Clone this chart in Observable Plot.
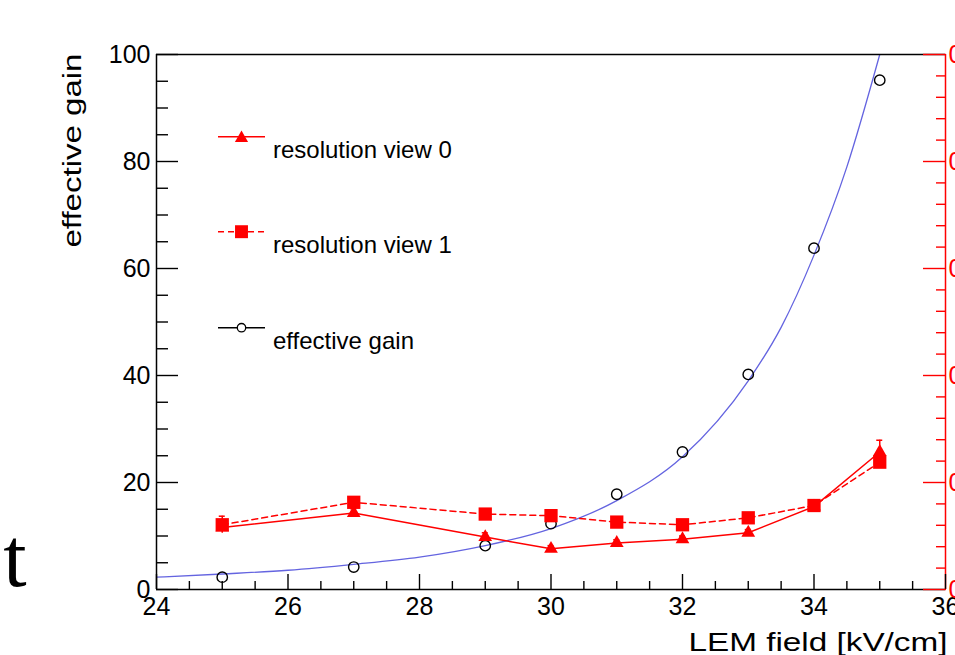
<!DOCTYPE html>
<html><head><meta charset="utf-8">
<script src="https://cdn.jsdelivr.net/npm/d3@7"></script>
<script src="https://cdn.jsdelivr.net/npm/@observablehq/plot@0.6"></script>
<style>
body{margin:0;background:#fff;}
#wrap{position:relative;width:955px;height:655px;overflow:hidden;background:#fff;}
#wrap svg.legend{position:absolute;left:0;top:0;pointer-events:none;}
</style></head><body><div id="wrap"></div>
<script>
// ---- data ----
const fields = [25, 27, 29, 30, 31, 32, 33, 34, 35];            // LEM field [kV/cm]
const gain   = [2.3, 4.2, 8.2, 12.3, 17.8, 25.7, 40.2, 63.8, 95.2]; // effective gain (left axis)
const res0   = [0.058, 0.0715, 0.049, 0.038, 0.0435, 0.047, 0.053, 0.0775, 0.1285]; // resolution view 0 (right axis)
const res1   = [0.0605, 0.0815, 0.0705, 0.069, 0.063, 0.0605, 0.067, 0.0785, 0.119]; // resolution view 1 (right axis)
const err0   = [0.004, 0.004, 0.004, 0.003, 0.003, 0.003, 0.003, 0.004, 0.011];
const err1   = [0.008, 0.004, 0.004, 0.004, 0.003, 0.003, 0.004, 0.004, 0.006];
const fitField = [24, 25, 26, 27, 28, 29, 30, 31, 32, 33, 33.5, 34, 34.5, 35];
const fitGain  = [2.3, 2.9, 3.6, 4.7, 6.05, 8.2, 11.4, 16.6, 24.8, 39, 49, 62.5, 79, 100];

const xDomain = [24, 36];
const yDomain = [0, 100];
const resMax = 0.5;
const xMajor = [24, 26, 28, 30, 32, 34, 36];
const xMinor = [24.5, 25, 25.5, 26.5, 27, 27.5, 28.5, 29, 29.5, 30.5, 31, 31.5, 32.5, 33, 33.5, 34.5, 35, 35.5];
const yMajor = [0, 20, 40, 60, 80, 100];
const yMinor = [5, 10, 15, 25, 30, 35, 45, 50, 55, 65, 70, 75, 85, 90, 95];
const rMajor = [0, 0.1, 0.2, 0.3, 0.4, 0.5];
const rMinor = [0.02, 0.04, 0.06, 0.08, 0.12, 0.14, 0.16, 0.18, 0.22, 0.24, 0.26, 0.28, 0.32, 0.34, 0.36, 0.38, 0.42, 0.44, 0.46, 0.48];
const legendNames = ["resolution view 0", "resolution view 1", "effective gain"];
const xTitle = "LEM field [kV/cm]";
const yTitle = "effective gain";

const red = "#ff0000";
const blue = "#6464e0";
const k = 100 / resMax;
const rows = fields.map((f, i) => ({f, gain: gain[i], r0: res0[i], r1: res1[i], e0: err0[i], e1: err1[i]}));
const fit = fitField.map((f, i) => ({f, g: fitGain[i]}));
const font = "'Liberation Sans', Arial, Helvetica, sans-serif";

const chart = Plot.plot({
  width: 955, height: 655,
  marginLeft: 156, marginRight: 10, marginTop: 54, marginBottom: 66,
  style: {fontFamily: font, fontSize: "25px", background: "white", overflow: "visible"},
  x: {domain: xDomain},
  y: {domain: yDomain},
  marks: [
    Plot.line(fit, {x: "f", y: "g", curve: "monotone-x", stroke: blue, strokeWidth: 1.3, clip: true}),
    Plot.dot(rows, {x: "f", y: "gain", r: 5.2, stroke: "black", strokeWidth: 1.4, fill: "none"}),
    Plot.line(rows, {x: "f", y: d => d.r1 * k, stroke: red, strokeWidth: 1.5, strokeDasharray: "6,4"}),
    Plot.line(rows, {x: "f", y: d => d.r0 * k, stroke: red, strokeWidth: 1.5}),
    Plot.ruleX(rows, {x: "f", y1: d => (d.r1 - d.e1) * k, y2: d => (d.r1 + d.e1) * k, stroke: red, strokeWidth: 1.5}),
    Plot.ruleY(rows, {x1: "f", x2: "f", y: d => (d.r1 + d.e1) * k, insetLeft: -3, insetRight: -3, stroke: red, strokeWidth: 1.5}),
    Plot.ruleX(rows, {x: "f", y1: d => (d.r0 - d.e0) * k, y2: d => (d.r0 + d.e0) * k, stroke: red, strokeWidth: 1.5}),
    Plot.ruleY(rows, {x1: "f", x2: "f", y: d => (d.r0 + d.e0) * k, insetLeft: -3, insetRight: -3, stroke: red, strokeWidth: 1.5}),
    Plot.dot(rows, {x: "f", y: d => d.r1 * k, symbol: "square", r: 7.5, fill: red}),
    Plot.dot(rows, {x: "f", y: d => d.r0 * k, symbol: "triangle", r: 5.1, fill: red}),
    // frame
    Plot.ruleY([yDomain[1]], {stroke: "black", strokeWidth: 1.5}),
    Plot.ruleY([yDomain[0]], {stroke: "black", strokeWidth: 1.5}),
    Plot.ruleX([xDomain[0]], {stroke: "black", strokeWidth: 1.5}),
    Plot.ruleX([xDomain[1]], {stroke: red, strokeWidth: 1.5}),
    // left axis
    Plot.axisY(yMajor, {anchor: "left", tickSize: -22, fill: "none", stroke: "black", strokeWidth: 1.4, label: null}),
    Plot.axisY(yMinor, {anchor: "left", tickSize: -12, fill: "none", stroke: "black", strokeWidth: 1.4, label: null}),
    Plot.axisY(yMajor, {anchor: "left", tickSize: 0, tickPadding: 6, fill: "black", fontSize: 25, label: null}),
    // bottom axis
    Plot.axisX(xMajor, {anchor: "bottom", tickSize: -15, fill: "none", stroke: "black", strokeWidth: 1.4, label: null}),
    Plot.axisX(xMinor, {anchor: "bottom", tickSize: -8, fill: "none", stroke: "black", strokeWidth: 1.4, label: null}),
    Plot.axisX(xMajor, {anchor: "bottom", tickSize: 0, tickPadding: 8, fill: "black", fontSize: 25, label: null}),
    // right (red) axis
    Plot.axisY(rMajor.map(v => v * k), {anchor: "right", tickSize: -23, fill: "none", stroke: red, strokeWidth: 1.4, label: null}),
    Plot.axisY(rMinor.map(v => v * k), {anchor: "right", tickSize: -10, fill: "none", stroke: red, strokeWidth: 1.4, label: null}),
    Plot.axisY(rMajor.map(v => v * k), {anchor: "right", tickSize: 0, tickPadding: 3, fill: red, fontSize: 25, label: null,
      tickFormat: d => String(+(d / k).toFixed(2))}),
    // titles
    Plot.text([yTitle], {frameAnchor: "top-left", text: d => d, rotate: -90, textAnchor: "end", lineAnchor: "bottom",
      dx: -76, dy: -1, fontSize: 25, fill: "black"}),
    Plot.text([xTitle], {frameAnchor: "bottom-right", text: d => d, textAnchor: "start", lineAnchor: "bottom",
      dx: -257, dy: 61, fontSize: 25, fill: "black"}),
    Plot.text(["ot"], {frameAnchor: "bottom-left", text: d => d, textAnchor: "end", lineAnchor: "bottom",
      dx: -130, dy: -4, fontSize: 84, fontFamily: "'Liberation Serif', 'Times New Roman', serif", fill: "black"})
  ]
});

// stretch axis titles to the reference's lengths
d3.select(chart).selectAll("text").filter(function () { return this.textContent === yTitle; })
  .attr("textLength", 194).attr("lengthAdjust", "spacingAndGlyphs");
d3.select(chart).selectAll("text").filter(function () { return this.textContent === xTitle; })
  .attr("textLength", 259).attr("lengthAdjust", "spacingAndGlyphs");

const wrap = document.getElementById("wrap");
wrap.appendChild(chart);

// legend overlay
const lg = d3.select(wrap).append("svg").attr("class", "legend").attr("width", 955).attr("height", 655)
  .style("font-family", font);
const rowY = [136.7, 231.7, 327.7];
const styles = [
  {stroke: red, dash: null, sym: d3.symbolTriangle, r: 4.9, fill: red, mstroke: "none", dy: 1.5},
  {stroke: red, dash: "6,4", sym: d3.symbolSquare, r: 7.3, fill: red, mstroke: "none", dy: 0},
  {stroke: "black", dash: null, sym: d3.symbolCircle, r: 4.2, fill: "white", mstroke: "black", dy: 0}
];
legendNames.forEach((name, i) => {
  const s = styles[i], y = rowY[i];
  lg.append("line").attr("x1", 218).attr("x2", 265).attr("y1", y).attr("y2", y)
    .attr("stroke", s.stroke).attr("stroke-width", 1.5).attr("stroke-dasharray", s.dash);
  lg.append("path").attr("d", d3.symbol(s.sym, Math.PI * s.r * s.r)())
    .attr("transform", `translate(241.5,${y + s.dy})`)
    .attr("fill", s.fill).attr("stroke", s.mstroke).attr("stroke-width", 1.3);
  lg.append("text").attr("x", 273).attr("y", y + 21.5).attr("font-size", 24).attr("fill", "black").text(name);
});
</script></body></html>
